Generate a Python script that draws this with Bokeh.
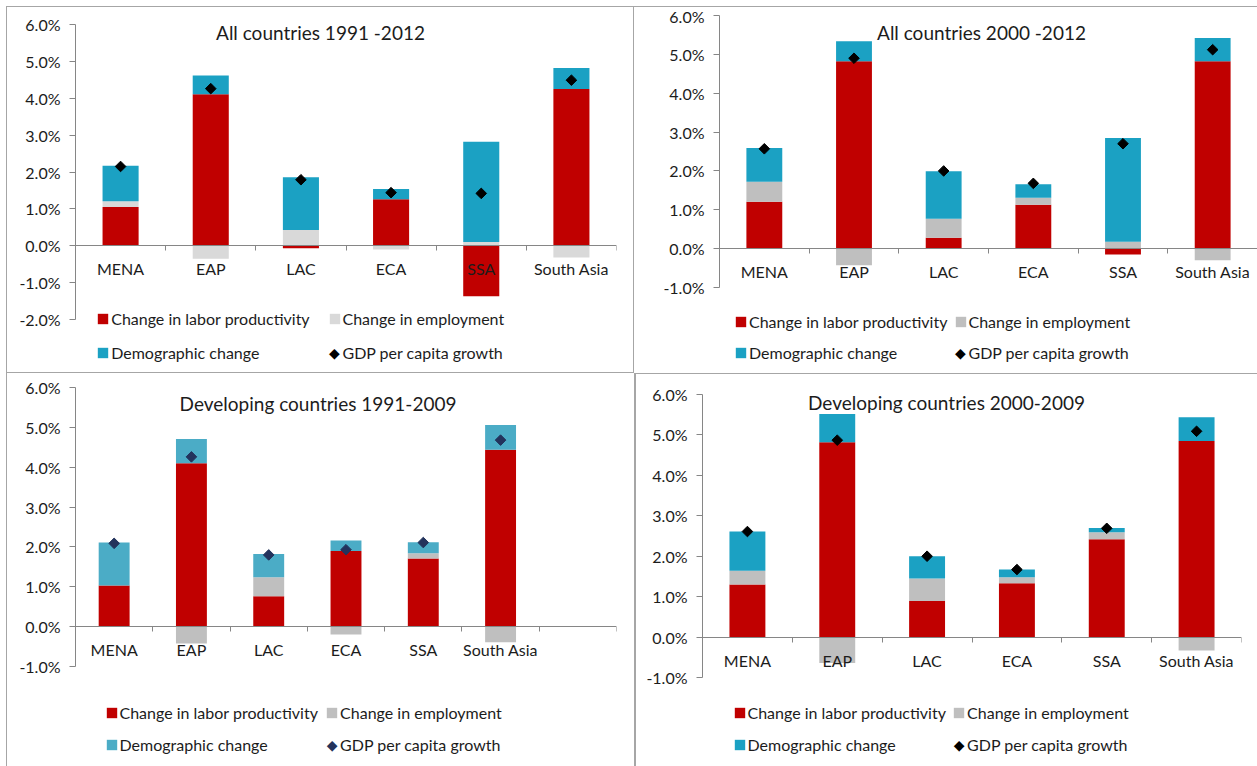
import math
from bokeh.plotting import figure
from bokeh.models import (FactorRange, Range1d, LinearAxis, FixedTicker,
                          PrintfTickFormatter, CustomJSTickFormatter, Legend, LegendItem,
                          Label, ColumnDataSource)
from bokeh.core.properties import value
from bokeh.layouts import row, column
from bokeh.embed import file_html
from bokeh.resources import INLINE

# ---------------- data ----------------
categories = ["MENA", "EAP", "LAC", "ECA", "SSA", "South Asia"]
series_names = ["Change in labor productivity", "Change in employment",
                "Demographic change", "GDP per capita growth"]

title_1 = "All countries 1991 -2012"
productivity_1 = [1.05, 4.11, -0.07, 1.26, -1.37, 4.25]
employment_1 = [0.16, -0.35, 0.43, -0.10, 0.10, -0.32]
demographic_1 = [0.96, 0.51, 1.43, 0.28, 2.72, 0.57]
gdp_growth_1 = [2.15, 4.26, 1.79, 1.44, 1.42, 4.49]
y_ticks_1 = [-2, -1, 0, 1, 2, 3, 4, 5, 6]

title_2 = "All countries 2000 -2012"
productivity_2 = [1.21, 4.82, 0.28, 1.13, -0.15, 4.82]
employment_2 = [0.51, -0.43, 0.49, 0.18, 0.18, -0.30]
demographic_2 = [0.87, 0.52, 1.22, 0.35, 2.67, 0.60]
gdp_growth_2 = [2.57, 4.90, 2.00, 1.68, 2.70, 5.12]
y_ticks_2 = [-1, 0, 1, 2, 3, 4, 5, 6]

title_3 = "Developing countries  1991-2009"
productivity_3 = [1.03, 4.10, 0.76, 1.90, 1.71, 4.44]
employment_3 = [0.00, -0.42, 0.48, -0.20, 0.13, -0.39]
demographic_3 = [1.08, 0.61, 0.58, 0.26, 0.28, 0.62]
gdp_growth_3 = [2.09, 4.26, 1.80, 1.93, 2.11, 4.68]
y_ticks_3 = [-1, 0, 1, 2, 3, 4, 5, 6]
axis_slots_3 = categories + [""]

title_4 = "Developing countries 2000-2009"
productivity_4 = [1.30, 4.82, 0.89, 1.33, 2.42, 4.85]
employment_4 = [0.34, -0.64, 0.56, 0.15, 0.17, -0.33]
demographic_4 = [0.97, 0.70, 0.55, 0.19, 0.11, 0.59]
gdp_growth_4 = [2.61, 4.87, 2.00, 1.67, 2.69, 5.09]
y_ticks_4 = [-1, 0, 1, 2, 3, 4, 5, 6]

# ---------------- styles ----------------
FONT = "Lato"
TEXT = "#1c1c1c"
AXIS = "#868686"
RED = "#C00000"
TEAL = "#1BA1C3"
BORDER = "#a6a6a6"
LEG_H = 20


def stack(series_list):
    n = len(series_list[0])
    pos = [0.0] * n
    neg = [0.0] * n
    out = []
    for vals in series_list:
        bottoms, tops = [], []
        for i, v in enumerate(vals):
            if v >= 0:
                b, t = pos[i], pos[i] + v
                pos[i] = t
            else:
                t, b = neg[i], neg[i] + v
                neg[i] = b
            bottoms.append(b)
            tops.append(t)
        out.append((bottoms, tops))
    return out


def add_legend_item(p, label, renderer, text_x, row_y, glyph, frame_left, frame_bottom):
    # text_x / row_y are page pixel positions
    gc = text_x - 9
    box_left = gc - glyph / 2.0
    standoff = int(round(text_x - (box_left + glyph)))
    loc = (box_left - frame_left, frame_bottom - row_y - LEG_H / 2.0)
    leg = Legend(items=[LegendItem(label=label, renderers=[renderer])],
                 location=loc, padding=0, margin=0, spacing=0,
                 border_line_color=None, background_fill_alpha=0,
                 glyph_width=glyph, glyph_height=glyph,
                 label_standoff=max(standoff, 0), label_height=LEG_H,
                 label_text_font=FONT, label_text_font_size="16px",
                 label_text_color=TEXT)
    p.add_layout(leg, "center")
    return gc - frame_left, frame_bottom - row_y


def make_panel(title, prod, emp, demo, gdp, y_ticks, slots, box, frame, y_pix,
               title_pix, legend_pix, gray, teal, marker_color, shadow, margin):
    fx, fy, fw, fh = box                 # figure box on the page
    fl, ft, fr, fb = frame               # plot frame on the page
    py_top, py_low = y_pix               # pixel rows of top / bottom tick
    top_v, low_v = y_ticks[-1], y_ticks[0]
    s = (py_low - py_top) / float(top_v - low_v)
    y_end = top_v + (py_top - ft) / s
    y_start = top_v - (fb - py_top) / s

    p = figure(x_range=FactorRange(factors=slots),
               y_range=Range1d(y_start, y_end),
               width=fw, height=fh, output_backend="svg",
               toolbar_location=None, title=None, margin=margin,
               x_axis_location=None, y_axis_location=None,
               min_border_left=fl - fx, min_border_right=fx + fw - fr,
               min_border_top=ft - fy, min_border_bottom=fy + fh - fb)
    p.grid.visible = False
    p.outline_line_color = None
    p.background_fill_color = None
    p.border_fill_color = None
    p.styles = {"box-shadow": shadow}

    stacks = stack([prod, emp, demo])
    colors = [RED, gray, teal]
    renderers = []
    for (bottoms, tops), col in zip(stacks, colors):
        src = ColumnDataSource(dict(x=categories, bottom=bottoms, top=tops))
        r = p.vbar(x="x", bottom="bottom", top="top", width=0.4, source=src,
                   fill_color=col, line_color=None)
        renderers.append(r)
    src_g = ColumnDataSource(dict(x=categories, y=gdp))
    p.scatter(x="x", y="y", source=src_g, marker="square", angle=math.pi / 4,
              size=7.5, fill_color=marker_color, line_color=marker_color)
    # legend stand-in for the diamond (its glyph is drawn as a text diamond below)
    dummy = p.scatter(x=[categories[0]], y=[float("nan")], marker="square",
                      size=1, fill_alpha=0, line_alpha=0)
    renderers.append(dummy)

    # y axis (line limited to the tick span)
    yax = LinearAxis(ticker=FixedTicker(ticks=y_ticks), bounds=(low_v, top_v),
                     formatter=PrintfTickFormatter(format="%.1f%%"),
                     axis_line_color=AXIS, major_tick_line_color=AXIS,
                     major_tick_out=6, major_tick_in=0, minor_tick_line_color=None,
                     major_label_standoff=9, major_label_text_font=FONT,
                     major_label_text_font_size="16px", major_label_text_color=TEXT)
    p.add_layout(yax, "left")

    # zero line with tick marks between categories
    boundaries = list(range(len(slots) + 1))
    bax = LinearAxis(ticker=FixedTicker(ticks=boundaries), fixed_location=0,
                     formatter=CustomJSTickFormatter(code="return ''"),
                     axis_line_color=AXIS, major_tick_line_color=AXIS,
                     major_tick_out=5, major_tick_in=0, minor_tick_line_color=None,
                     major_label_text_font_size="1px", major_label_standoff=0)
    p.add_layout(bax, "below")

    # category names just under the zero line
    src_c = ColumnDataSource(dict(x=categories, y=[0] * len(categories), t=categories))
    p.text(x="x", y="y", text="t", source=src_c, y_offset=23,
           text_align="center", text_baseline="middle", text_font=value(FONT),
           text_font_size="16px", text_color=TEXT)

    tx = (title_pix[0] - fl) / ((fr - fl) / float(len(slots)))
    ty = top_v - (title_pix[1] - py_top) / s
    p.add_layout(Label(x=tx, y=ty, text=title, text_font=FONT,
                       text_font_size="19px", text_color=TEXT, text_align="center",
                       text_baseline="middle"))

    (c1, c2), (r1, r2) = legend_pix
    add_legend_item(p, series_names[0], renderers[0], c1, r1, 13, fl, fb)
    add_legend_item(p, series_names[1], renderers[1], c2, r1, 13, fl, fb)
    add_legend_item(p, series_names[2], renderers[2], c1, r2, 13, fl, fb)
    dx, dy = add_legend_item(p, series_names[3], renderers[3], c2, r2, 13, fl, fb)
    p.add_layout(Label(x=dx, y=dy, x_units="screen", y_units="screen", text="\u25C6",
                       text_font="DejaVu Sans", text_font_size="14px",
                       text_color=marker_color, text_align="center",
                       text_baseline="middle"))
    return p


B = BORDER
p1 = make_panel(title_1, productivity_1, employment_1, demographic_1, gdp_growth_1,
                y_ticks_1, categories,
                box=(6, 6, 628, 367), frame=(75, 12, 616, 363), y_pix=(24, 319),
                title_pix=(320, 32), legend_pix=((111.7, 343), (318.3, 352)),
                gray="#D9D9D9", teal=TEAL, marker_color="#000000",
                shadow=f"inset 0 0 0 1px {B}", margin=(6, 0, 0, 6))
p2 = make_panel(title_2, productivity_2, employment_2, demographic_2, gdp_growth_2,
                y_ticks_2, categories,
                box=(634, 6, 623, 367), frame=(719, 12, 1257, 363), y_pix=(15, 287),
                title_pix=(981, 32), legend_pix=((749.5, 969), (321, 352)),
                gray="#BFBFBF", teal=TEAL, marker_color="#000000",
                shadow=f"inset 0 1px 0 0 {B}", margin=(6, 0, 0, 0))
p3 = make_panel(title_3, productivity_3, employment_3, demographic_3, gdp_growth_3,
                y_ticks_3, axis_slots_3,
                box=(6, 373, 629, 393), frame=(75, 383, 616, 756), y_pix=(387, 666),
                title_pix=(320, 403), legend_pix=((120, 340.6), (712.7, 744)),
                gray="#BFBFBF", teal="#4BACC6", marker_color="#23335C",
                shadow=f"inset 1px 0 0 0 {B}, inset -1px 0 0 0 {B}", margin=(0, 0, 0, 6))
p4 = make_panel(title_4, productivity_4, employment_4, demographic_4, gdp_growth_4,
                y_ticks_4, categories,
                box=(635, 373, 622, 393), frame=(702, 383, 1241, 756), y_pix=(394, 677),
                title_pix=(946, 402), legend_pix=((748, 967.6), (712.7, 744)),
                gray="#BFBFBF", teal=TEAL, marker_color="#000000",
                shadow=f"inset 1px 1px 0 0 {B}", margin=(0, 0, 0, 0))

layout = column(row(p1, p2), row(p3, p4))
open("out.html", "w").write(file_html(layout, INLINE))
